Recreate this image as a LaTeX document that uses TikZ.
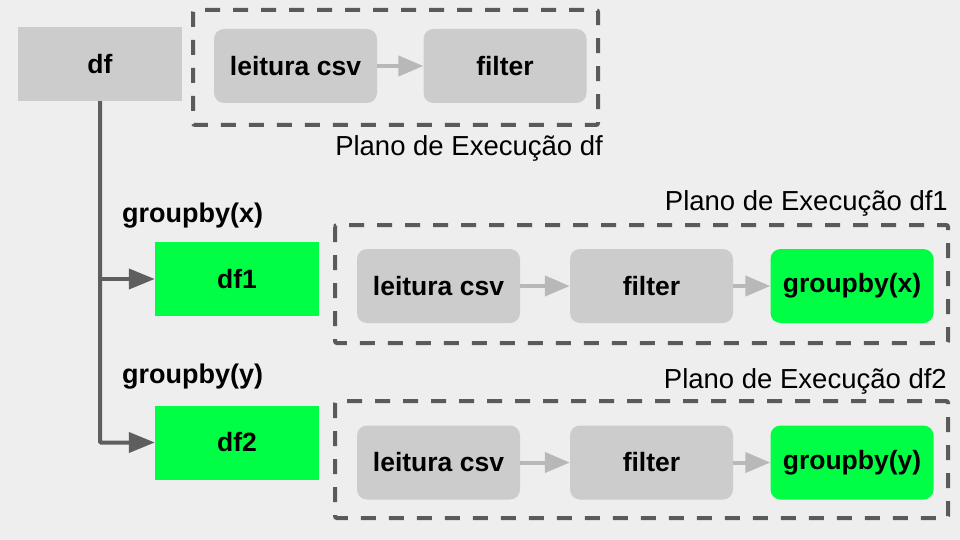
\documentclass[tikz,border=0pt]{standalone}
\usepackage{fontspec}
\setmainfont{Liberation Sans}
\usetikzlibrary{arrows.meta}
\definecolor{bg}{HTML}{EEEEEE}
\definecolor{boxgray}{HTML}{CCCCCC}
\definecolor{boxgreen}{HTML}{00FF44}
\definecolor{dashcol}{HTML}{5A5A5A}
\definecolor{linkcol}{HTML}{5E5E5E}
\definecolor{lightarrow}{HTML}{B8B8B8}
\tikzset{
  stage/.style={draw=none, fill=boxgray, rounded corners=10pt, minimum width=163pt, minimum height=74pt, inner sep=0pt, font=\fontsize{26.5}{30}\selectfont\bfseries},
  greenstage/.style={stage, fill=boxgreen},
  dfbox/.style={draw=none, fill=boxgray, minimum width=164pt, minimum height=74pt, inner sep=0pt, font=\fontsize{26.5}{30}\selectfont\bfseries},
  dfgreen/.style={dfbox, fill=boxgreen},
  plan/.style={draw=dashcol, line width=4pt, dash pattern=on 15pt off 13pt, rounded corners=2pt},
  plantext/.style={font=\fontsize{27.5}{32}\selectfont, inner sep=0pt},
  optext/.style={font=\fontsize{27}{32}\selectfont\bfseries, inner sep=0pt},
  flow/.style={draw=lightarrow, line width=4pt, -{Triangle[length=25pt,width=20pt]}},
  link/.style={draw=linkcol, line width=4pt, -{Triangle[length=26pt,width=20pt]}},
}
\begin{document}
\begin{tikzpicture}[x=1pt,y=-1pt]
\fill[bg] (0,0) rectangle (960,540);
\useasboundingbox (0,0) rectangle (960,540);

% df source
\node[dfbox] (df) at (100,64) {df};

% plan df
\draw[plan] (193,10) rectangle (598,125);
\node[stage] (r0a) at (295.5,66) {leitura csv};
\node[stage] (r0b) at (505,66) {filter};
\draw[flow] (r0a) -- (r0b);
\node[plantext, anchor=east] (p0) at (603,148) {Plano de Execução df};

% df1
\node[optext, anchor=west] (g1) at (122,216) {groupby(x)};
\node[dfgreen] (df1) at (237,279) {df1};
\draw[plan] (335,225) rectangle (948,343);
\node[stage] (r1a) at (438.5,286) {leitura csv};
\node[stage] (r1b) at (651.5,286) {filter};
\node[greenstage] (r1c) at (852,286) {groupby(x)};
\draw[flow] (r1a) -- (r1b);
\draw[flow] (r1b) -- (r1c);
\node[plantext, anchor=east] (p1) at (948,203) {Plano de Execução df1};

% df2
\node[optext, anchor=west] (g2) at (122,377) {groupby(y)};
\node[dfgreen] (df2) at (237,442.5) {df2};
\draw[plan] (335,401) rectangle (948,518);
\node[stage] (r2a) at (438.5,462.5) {leitura csv};
\node[stage] (r2b) at (651.5,462.5) {filter};
\node[greenstage] (r2c) at (852,462.5) {groupby(y)};
\draw[flow] (r2a) -- (r2b);
\draw[flow] (r2b) -- (r2c);
\node[plantext, anchor=east] (p2) at (947,381) {Plano de Execução df2};

% connectors
\coordinate (j1) at (df.south |- df1.west);
\draw[link] (df.south) -- (j1) -- (df1.west);
\draw[link, rounded corners=1pt] (df.south) -- (df.south |- df2.west) -- (df2.west);
\end{tikzpicture}
\end{document}
